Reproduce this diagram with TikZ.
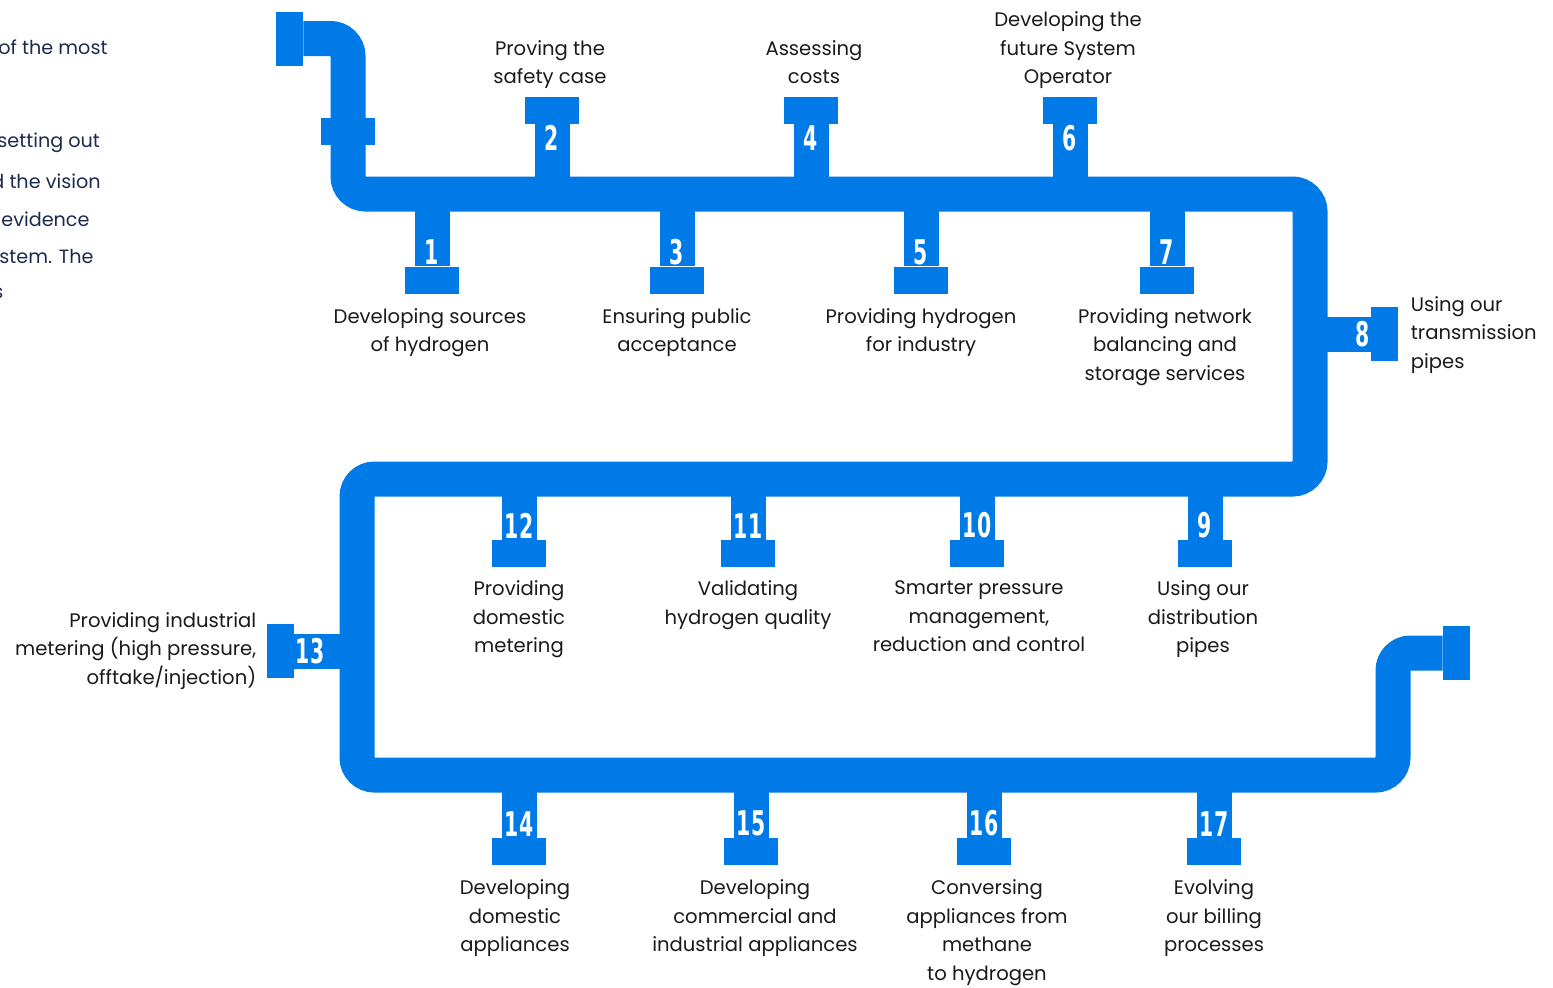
\documentclass[tikz,border=0pt]{standalone}
\usepackage{fontspec}
\usepackage{tikz}
\usetikzlibrary{positioning}

\setmainfont{Poppins}
\newfontfamily\numfamily{DejaVu Sans}[FakeStretch=0.6]

\definecolor{pipeblue}{RGB}{0,122,230}
\definecolor{inkblack}{RGB}{26,26,26}
\definecolor{introblue}{RGB}{28,43,78}

\tikzset{
  pipe/.style={draw=pipeblue, line width=17.5pt, rounded corners=8.75pt},
  stem/.style={draw=pipeblue, line width=17.5pt},
  flange/.style={fill=pipeblue, inner sep=0pt, minimum width=27pt, minimum height=13.5pt},
  sideflange/.style={flange, minimum width=13.5pt, minimum height=27pt},
  num/.style={text=white, inner sep=0pt, font=\numfamily\bfseries\fontsize{17pt}{17pt}\selectfont},
  lbl/.style={text=inkblack, align=center, inner sep=0pt, font=\fontsize{9.8pt}{14.25pt}\selectfont},
  intro/.style={text=introblue, anchor=west, inner sep=0pt, font=\fontsize{9.6pt}{18pt}\selectfont},
}

\begin{document}
\begin{tikzpicture}[x=0.5pt, y=-0.5pt]
\useasboundingbox (0,0) rectangle (1553,987);

% Left page text, cut at the edge
\begin{scope}
\clip (0,0) rectangle (1553,987);
\node[intro] (introA) at (-2,47) {of the most};
\foreach \y/\x/\t in {143/-3/setting out, 181/-9/d the vision, 219/1/evidence, 256/-1/stem. The, 293/-7/s}
  \node[intro] (intro\y) at (\x,\y) {\t};
\end{scope}

% Inlet, outlet and the collar on the first bend
\node[sideflange] (inlet) at (289.5,38.5) {};
\node[flange] (collar) at (348,131.5) {};
\node[sideflange] (outlet) at (1456.5,653) {};

% The main pipe
\draw[pipe] (inlet.east) -- (348,38.5) -- (348,194) -- (1310,194) -- (1310,479)
  -- (357,479) -- (357,775) -- (1393,775) -- (1393,653) -- (outlet.west);
\node[flange] at (collar) {};

% Branches pointing up from the first run
\foreach \x/\n in {552/2, 811/4, 1070/6} {
  \node[flange] (f\n) at (\x,110) {};
  \draw[stem] (\x,194) -- (f\n.south);
  \node[num, below=0.5pt of f\n] (n\n) {\n};
}

% Branches pointing down
\foreach \x/\n in {432/1, 677/3, 921/5, 1167/7} {
  \node[flange] (f\n) at (\x,280) {};
  \draw[stem] (\x,194) -- (f\n.north);
  \node[num, above=0.5pt of f\n] (n\n) {\n};
}
\foreach \x/\n in {519/12, 748/11, 977/10, 1205/9} {
  \node[flange] (f\n) at (\x,553.5) {};
  \draw[stem] (\x,479) -- (f\n.north);
  \node[num, above=0.5pt of f\n] (n\n) {\n};
}
\foreach \x/\n in {519/14, 751/15, 984/16, 1214/17} {
  \node[flange] (f\n) at (\x,851.5) {};
  \draw[stem] (\x,775) -- (f\n.north);
  \node[num, above=0.5pt of f\n] (n\n) {\n};
}

% Side branches
\node[sideflange] (f8) at (1384.5,334) {};
\draw[stem] (1310,334) -- (f8.west);
\node[num, left=0.5pt of f8] (n8) {8};
\node[sideflange] (f13) at (280.5,651) {};
\draw[stem] (357,651) -- (f13.east);
\node[num, right=0.5pt of f13] (n13) {13};

% Labels
\node[lbl, above=3.5pt of f2, xshift=-1pt] (t2) {Proving the\\safety case};
\node[lbl, above=3.5pt of f4, xshift=1.5pt] (t4) {Assessing\\costs\vphantom{y}};
\node[lbl, above=3.5pt of f6, xshift=-1pt] (t6) {Developing the\\future System\\Operator};
\node[lbl, below=7pt of f1, xshift=-1pt] (t1) {Developing sources\\of hydrogen};
\node[lbl, below=7pt of f3] (t3) {Ensuring public\\acceptance};
\node[lbl, below=7pt of f5] (t5) {Providing hydrogen\\for industry};
\node[lbl, below=7pt of f7, xshift=-1pt] (t7) {Providing network\\balancing and\\storage services};
\node[lbl, right=6pt of f8, align=left, yshift=-0.5pt] (t8) {Using our\\transmission\\pipes};
\node[lbl, below=6.5pt of f9, xshift=-1pt] (t9) {Using our\\distribution\\pipes};
\node[lbl, below=6.5pt of f10, xshift=1pt] (t10) {Smarter pressure\\management,\\reduction and control};
\node[lbl, below=6.5pt of f11] (t11) {Validating\\hydrogen quality};
\node[lbl, below=6.5pt of f12] (t12) {Providing\\domestic\\metering};
\node[lbl, left=5pt of f13, align=right] (t13) {Providing industrial\\metering (high pressure,\\offtake/injection)};
\node[lbl, below=7pt of f14, xshift=-2pt] (t14) {Developing\\domestic\\appliances};
\node[lbl, below=7pt of f15, xshift=2pt] (t15) {Developing\\commercial and\\industrial appliances};
\node[lbl, below=7pt of f16, xshift=1.5pt] (t16) {Conversing\\appliances from\\methane\\to hydrogen};
\node[lbl, below=7pt of f17] (t17) {Evolving\\our billing\\processes};

\end{tikzpicture}
\end{document}
